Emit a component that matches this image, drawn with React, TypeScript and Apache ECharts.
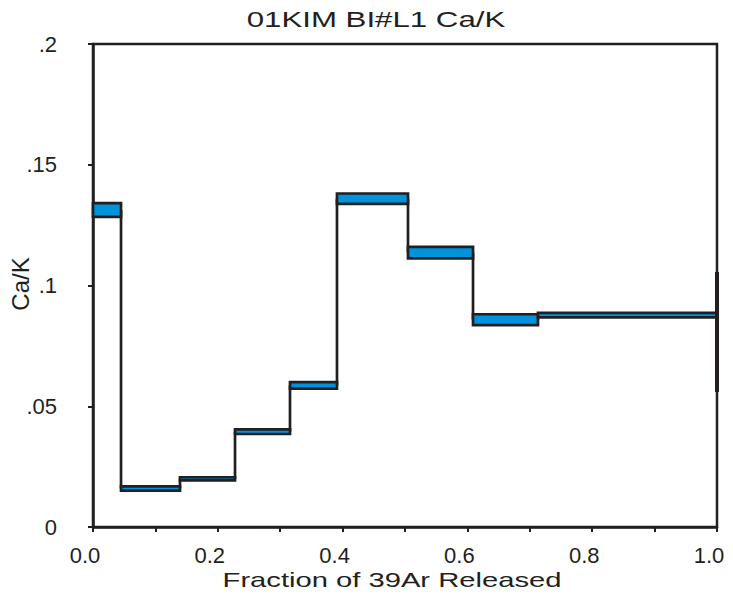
import React, { useEffect, useRef } from "react";
import * as echarts from "echarts";

// Cumulative fraction of 39Ar released at step boundaries
const stepBounds = [0, 0.0449, 0.1394, 0.2276, 0.3157, 0.391, 0.5048, 0.609, 0.7131, 1.0];
// Ca/K lower and upper values of each step
const caKLow = [0.1284, 0.0151, 0.0193, 0.0385, 0.0573, 0.1338, 0.1112, 0.0836, 0.0868];
const caKHigh = [0.1341, 0.0168, 0.0206, 0.0404, 0.05996, 0.1381, 0.116, 0.0881, 0.0887];
// Integrated range drawn at the right edge
const totalX = 1.0;
const totalRange = [0.0559, 0.1056];

const xTickLabels = ["0.0", "", "0.2", "", "0.4", "", "0.6", "", "0.8", "", "1.0"];
const yTickLabels = ["0", ".05", ".1", ".15", ".2"];

const titleText = "01KIM BI#L1 Ca/K";
const xName = "Fraction of 39Ar Released";
const yName = "Ca/K";

const DARK = "#231f20";
const BLUE = "#0093dd";
const FONT = '"Liberation Sans", Arial, sans-serif';

export default function App() {
  const ref = useRef<HTMLDivElement>(null);

  useEffect(() => {
    document.body.style.margin = "0";
    if (!ref.current) return;
    const chart = echarts.init(ref.current, undefined, { renderer: "svg" });

    const boxData = caKLow.map((lo, i) => [stepBounds[i], stepBounds[i + 1], lo, caKHigh[i]]);
    const connData: number[][] = [];
    for (let i = 1; i < caKLow.length; i++) {
      const prevMid = (caKLow[i - 1] + caKHigh[i - 1]) / 2;
      const mid = (caKLow[i] + caKHigh[i]) / 2;
      connData.push([stepBounds[i], prevMid, mid]);
    }

    const option: any = {
      animation: false,
      backgroundColor: "#ffffff",
      grid: {
        left: 93,
        right: 16,
        top: 44,
        bottom: 70,
        show: true,
        borderColor: DARK,
        borderWidth: 2.5,
        backgroundColor: "transparent",
      },
      xAxis: {
        type: "value",
        min: 0,
        max: 1,
        interval: 0.1,
        axisLine: { show: true, onZero: false, lineStyle: { color: DARK, width: 2.5 } },
        axisTick: { show: true, inside: false, length: 5, lineStyle: { color: DARK, width: 2 } },
        splitLine: { show: false },
        axisLabel: {
          color: DARK,
          fontFamily: FONT,
          fontSize: 22,
          margin: 17,
          padding: [0, 16, 0, 0],
          showMinLabel: true,
          showMaxLabel: true,
          formatter: (_v: number, i: number) => xTickLabels[i] ?? "",
        },
      },
      yAxis: {
        type: "value",
        min: 0,
        max: 0.2,
        interval: 0.05,
        axisLine: { show: true, onZero: false, lineStyle: { color: DARK, width: 2.5 } },
        axisTick: { show: true, inside: false, length: 5, lineStyle: { color: DARK, width: 2 } },
        splitLine: { show: false },
        axisLabel: {
          color: DARK,
          fontFamily: FONT,
          fontSize: 22,
          margin: 36,
          showMinLabel: true,
          showMaxLabel: true,
          formatter: (_v: number, i: number) => yTickLabels[i] ?? "",
        },
      },
      graphic: [
        {
          type: "text",
          x: 376,
          y: 20,
          scaleX: 1.42,
          style: {
            text: titleText,
            font: `22px ${FONT}`,
            fill: DARK,
            align: "center",
            verticalAlign: "middle",
            textAlign: "center",
            textVerticalAlign: "middle",
          },
        },
        {
          type: "text",
          x: 392,
          y: 580,
          scaleX: 1.39,
          style: {
            text: xName,
            font: `21px ${FONT}`,
            fill: DARK,
            align: "center",
            verticalAlign: "middle",
            textAlign: "center",
            textVerticalAlign: "middle",
          },
        },
        {
          type: "text",
          x: 20,
          y: 284,
          rotation: Math.PI / 2,
          style: {
            text: yName,
            font: `24px ${FONT}`,
            fill: DARK,
            align: "center",
            verticalAlign: "middle",
            textAlign: "center",
            textVerticalAlign: "middle",
          },
        },
      ],
      series: [
        {
          type: "custom",
          name: "connectors",
          clip: false,
          z: 2,
          data: connData,
          encode: { x: 0, y: [1, 2] },
          renderItem: (_p: any, api: any) => {
            const a = api.coord([api.value(0), api.value(1)]);
            const b = api.coord([api.value(0), api.value(2)]);
            return {
              type: "line",
              shape: { x1: a[0], y1: a[1], x2: b[0], y2: b[1] },
              style: { stroke: DARK, lineWidth: 2.7 },
            };
          },
        },
        {
          type: "custom",
          name: "steps",
          clip: false,
          z: 3,
          data: boxData,
          encode: { x: [0, 1], y: [2, 3] },
          renderItem: (_p: any, api: any) => {
            const p0 = api.coord([api.value(0), api.value(3)]);
            const p1 = api.coord([api.value(1), api.value(2)]);
            return {
              type: "rect",
              shape: { x: p0[0], y: p0[1], width: p1[0] - p0[0], height: p1[1] - p0[1] },
              style: { fill: BLUE, stroke: DARK, lineWidth: 2.7 },
            };
          },
        },
        {
          type: "custom",
          name: "total",
          clip: false,
          z: 4,
          data: [[totalX, totalRange[0], totalRange[1]]],
          encode: { x: 0, y: [1, 2] },
          renderItem: (_p: any, api: any) => {
            const a = api.coord([api.value(0), api.value(1)]);
            const b = api.coord([api.value(0), api.value(2)]);
            return {
              type: "line",
              shape: { x1: a[0], y1: a[1], x2: b[0], y2: b[1] },
              style: { stroke: DARK, lineWidth: 4 },
            };
          },
        },
      ],
    };

    chart.setOption(option);
    return () => chart.dispose();
  }, []);

  return <div ref={ref} style={{ width: 733, height: 597 }} />;
}
